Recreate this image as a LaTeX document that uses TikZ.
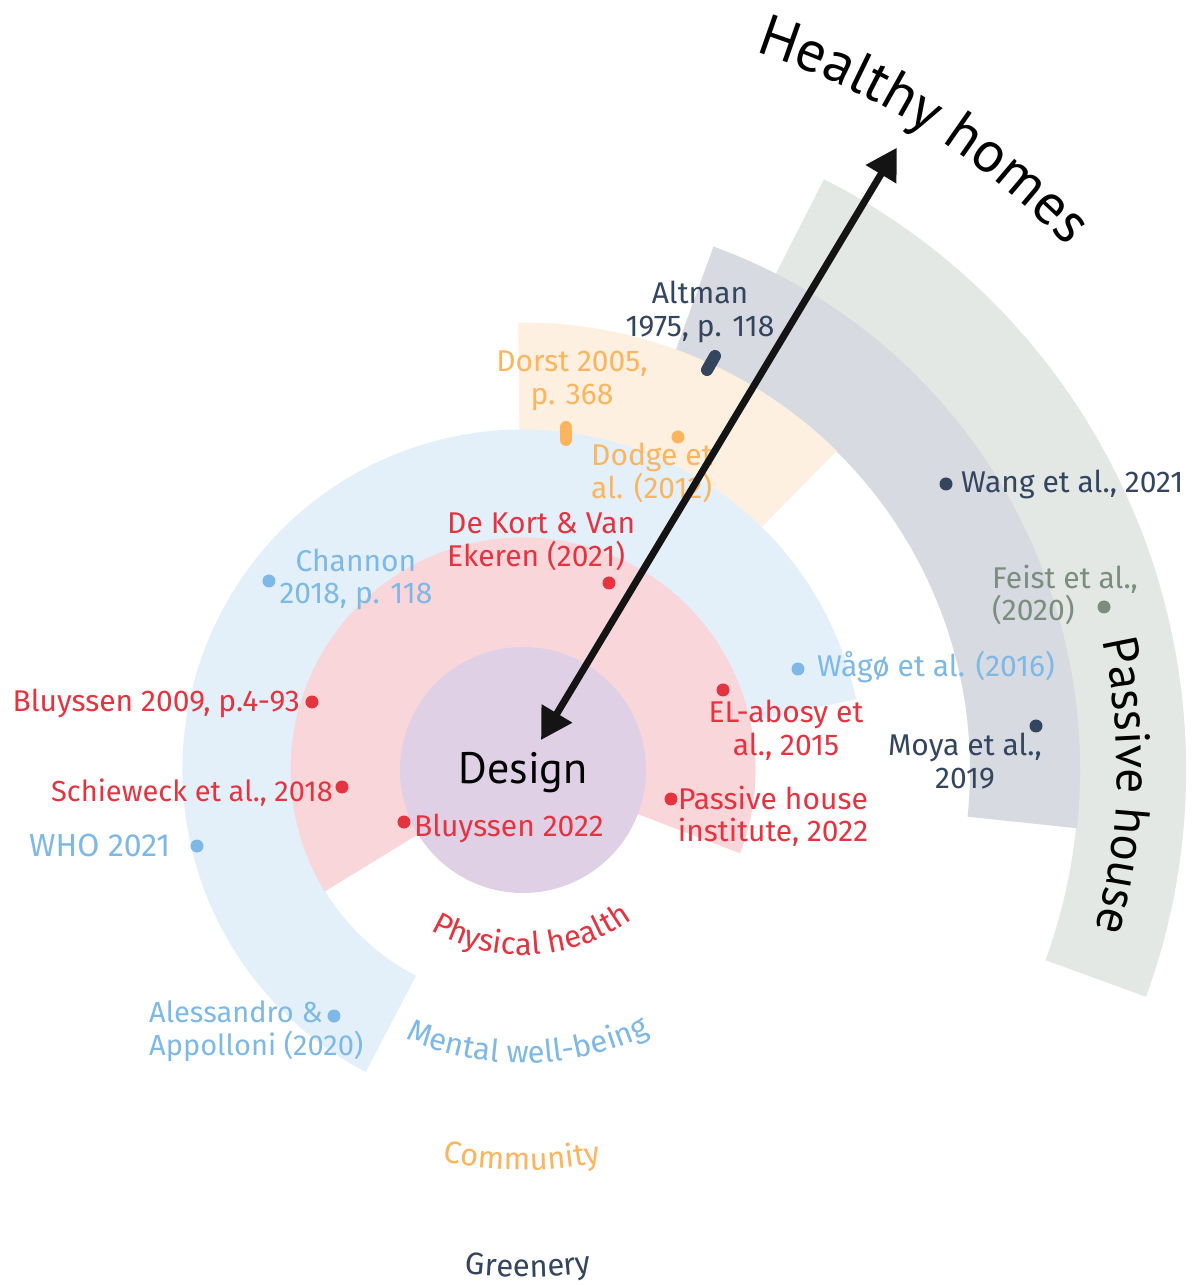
\documentclass[tikz,border=0pt]{standalone}
\usepackage{fontspec}
\setmainfont{Fira Sans}
\newfontfamily\dfont{PT Sans}
\usetikzlibrary{arrows.meta,decorations.text}
\definecolor{cred}{HTML}{E63340}
\definecolor{cblue}{HTML}{7DB8E6}
\definecolor{corange}{HTML}{FBB55E}
\definecolor{cnavy}{HTML}{344560}
\definecolor{csage}{HTML}{7B8E7E}
\definecolor{fred}{HTML}{F9D6DA}
\definecolor{fblue}{HTML}{E3F0F9}
\definecolor{forange}{HTML}{FEF0E0}
\definecolor{fgray}{HTML}{D7DAE0}
\definecolor{fsage}{HTML}{E3E8E4}
\definecolor{fdesign}{HTML}{E0D0E6}
\newcommand\lblfont{\fontsize{30}{32.5}\selectfont}
\newcommand\curvefmt[1]{\fontsize{31}{31}\selectfont\color{#1}}
\begin{document}
\begin{tikzpicture}[x=1pt,y=1pt,
  lbl/.style={font=\lblfont, inner sep=0pt, align=center},
  lbll/.style={font=\lblfont, inner sep=0pt, align=left, anchor=west},
  dotm/.style={circle, inner sep=0pt, minimum size=13pt},
  pill/.style={line width=12pt, line cap=round},
  bigarrow/.style={line width=7pt, {Triangle[length=31pt,width=34pt]}-{Triangle[length=31pt,width=34pt]}}]
\fill[white] (-523,-515) rectangle (669,770);
\useasboundingbox (-523,-515) rectangle (669,770);
% bands
\fill[fsage] (63:663) arc[start angle=63,end angle=-20,radius=663] -- (-20:556) arc[start angle=-20,end angle=63,radius=556] -- cycle;
\fill[fgray] (70:557) arc[start angle=70,end angle=-6,radius=557] -- (-6:447) arc[start angle=-6,end angle=70,radius=447] -- cycle;
\fill[forange] (90.6:447.5) arc[start angle=90.6,end angle=45.5,radius=447.5] -- (45.5:340) arc[start angle=45.5,end angle=90.6,radius=340] -- cycle;
\fill[fblue] (12:340.5) arc[start angle=12,end angle=242.5,radius=340.5] -- (242.5:232) arc[start angle=242.5,end angle=12,radius=232] -- cycle;
\fill[fred] (0,0) -- (-21:232.5) arc[start angle=-21,end angle=211.5,radius=232.5] -- cycle;
\node[circle, fill=fdesign, inner sep=0pt, minimum size=246pt] (design) at (0,0) {};
\node[anchor=base, inner sep=0pt, font=\dfont\fontsize{44}{44}\selectfont] (designlbl) at (0,-13) {Design};
% curved headings
\path[decorate, decoration={text along path, text align=center, text={|\dfont\fontsize{58}{58}\selectfont|Healthy homes}}] (80:755) arc[start angle=80,end angle=36,radius=755];
\path[decorate, decoration={text along path, text align=center, text={|\dfont\fontsize{49}{49}\selectfont|Passive house}}] (22:594) arc[start angle=22,end angle=-25,radius=594];
\path[decorate, decoration={text along path, text align=center, text={|\curvefmt{cred}|Physical health}}] (220:185) arc[start angle=220,end angle=326,radius=185];
\path[decorate, decoration={text along path, text align=center, text={|\curvefmt{cblue}|Mental well-being}}] (225:293) arc[start angle=225,end angle=317,radius=293];
\path[decorate, decoration={text along path, text align=center, text={|\curvefmt{corange}|Community}}] (245:400) arc[start angle=245,end angle=294.6,radius=400];
\path[decorate, decoration={text along path, text align=center, text={|\curvefmt{cnavy}|Greenery}}] (252:507) arc[start angle=252,end angle=289.2,radius=507];
% labels and markers
\node[lbl, text=cnavy] (altman) at (177,458) {Altman\\1975, p. 118};
\coordinate (altA) at (184,400); \coordinate (altB) at (192,414);
\draw[pill, cnavy] (altA) -- (altB);
\node[lbl, text=corange] (dorst) at (49,389) {Dorst 2005,\\p. 368};
\coordinate (dorA) at (43,343); \coordinate (dorB) at (43,330);
\draw[pill, corange] (dorA) -- (dorB);
\node[lbll, text=corange] (dodge) at (68,297) {Dodge et\\al. (2012)};
\node[dotm, fill=corange] (dodgedot) at (155,333) {};
\node[lbll, text=cred] (dekort) at (-76,228.5) {De Kort \& Van\\Ekeren (2021)};
\node[dotm, fill=cred] (dekortdot) at (86,187) {};
\node[lbl, text=cblue] (channon) at (-167,190.5) {Channon\\2018, p. 118};
\node[dotm, fill=cblue] (channondot) at (-254,189) {};
\node[font=\lblfont, inner sep=0pt, anchor=base east, text=cred] (bly09) at (-223,58) {Bluyssen 2009, p.4-93};
\node[dotm, fill=cred] (bly09dot) at (-211,68) {};
\node[font=\fontsize{29}{32}\selectfont, inner sep=0pt, anchor=base east, text=cred] (schie) at (-190,-31) {Schieweck et al., 2018};
\node[dotm, fill=cred] (schiedot) at (-181,-17) {};
\node[font=\fontsize{32}{32}\selectfont, inner sep=0pt, anchor=base west, text=cblue] (who) at (-494,-86) {WHO 2021};
\node[dotm, fill=cblue] (whodot) at (-326,-76) {};
\node[font=\lblfont, inner sep=0pt, anchor=base west, text=cred] (bly22) at (-109,-66) {Bluyssen 2022};
\node[dotm, fill=cred] (bly22dot) at (-119,-52) {};
\node[lbl, text=cred] (elabosy) at (263,40) {EL-abosy et\\al., 2015};
\node[dotm, fill=cred] (elabosydot) at (200,80) {};
\node[lbl, text=cred] (phi) at (250,-46.5) {Passive house\\institute, 2022};
\node[dotm, fill=cred] (phidot) at (148,-29) {};
\node[font=\lblfont, inner sep=0pt, anchor=base west, text=cblue] (wago) at (294,93) {Wågø et al. (2016)};
\node[dotm, fill=cblue] (wagodot) at (275,101) {};
\node[font=\lblfont, inner sep=0pt, anchor=base west, text=cnavy] (wang) at (438,277) {Wang et al., 2021};
\node[dotm, fill=cnavy] (wangdot) at (423,286) {};
\node[lbll, text=csage] (feist) at (469,175) {Feist et al.,\\(2020)};
\node[dotm, fill=csage] (feistdot) at (581,163) {};
\node[lbl, text=cnavy] (moya) at (442,9) {Moya et al.,\\2019};
\node[dotm, fill=cnavy] (moyadot) at (513,44) {};
\node[lbll, text=cblue, font=\fontsize{29}{32.5}\selectfont] (aless) at (-374,-261) {Alessandro \&\\Appolloni (2020)};
\node[dotm, fill=cblue] (alessdot) at (-189,-246) {};
% arrow
\coordinate (arrIn) at (59:35);
\coordinate (arrOut) at (59:726);
\draw[bigarrow, black!92] (arrIn) -- (arrOut);
\end{tikzpicture}
\end{document}
